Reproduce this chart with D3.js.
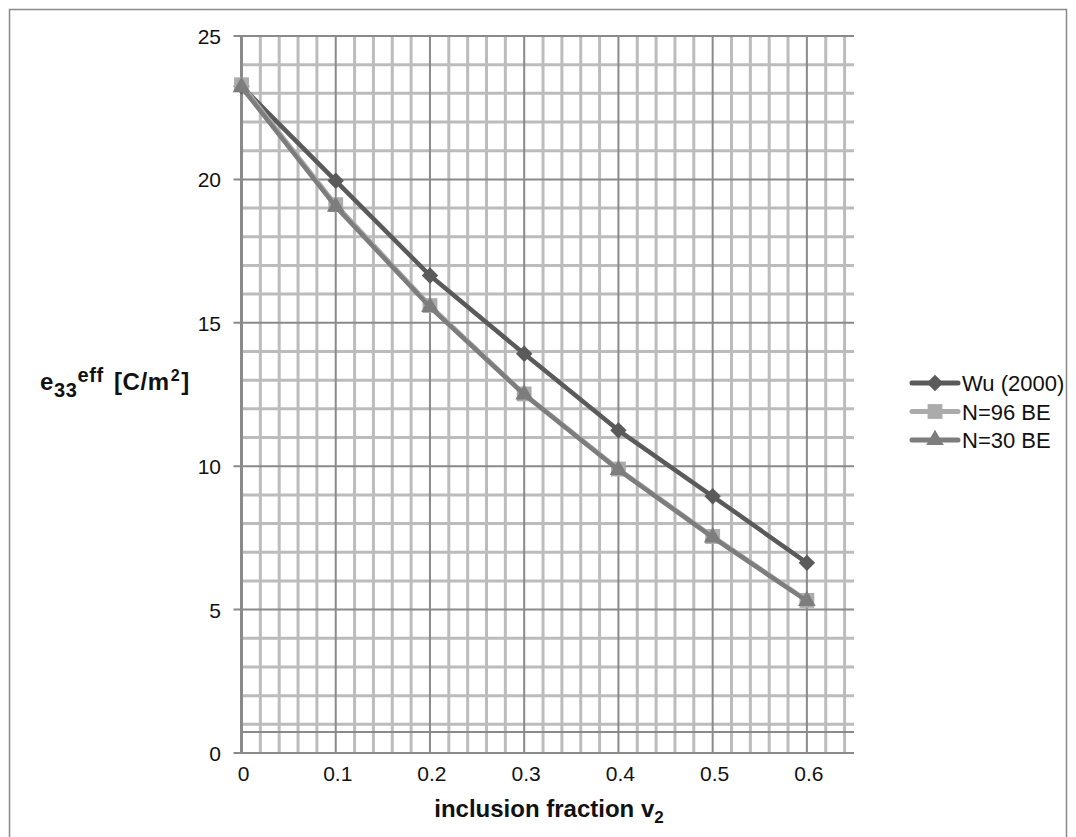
<!DOCTYPE html>
<meta charset="utf-8">
<style>
body,html{
  margin: 0;
  padding: 0;
  background: #fff;
}
svg{
  display: block;
  font-family: "Liberation Sans", Arial, sans-serif;
}
.grid-minor line { stroke: #bcbcbc; stroke-width: 3px; }
.grid-major line { stroke: #8a8a8a; stroke-width: 2px; }
.ticklbl { font-size: 21px; fill: #111; }
.legend text { font-size: 22px; fill: #111; }
</style>
<svg width="1076" height="837"></svg>
<script src="https://d3js.org/d3.v7.min.js"></script>
<script>

// inclusion fraction values
var xs = [0, 0.1, 0.2, 0.3, 0.4, 0.5, 0.6]

// e33 eff for each series
var wu     = [23.25, 19.95, 16.65, 13.92, 11.25, 8.95, 6.63]
var n96    = [23.3, 19.12, 15.6, 12.52, 9.9, 7.55, 5.32]
var n30    = [23.22, 19.05, 15.55, 12.5, 9.87, 7.52, 5.3]

var seriesNames = ["Wu (2000)", "N=96 BE", "N=30 BE"]
var xTicks = [0, 0.1, 0.2, 0.3, 0.4, 0.5, 0.6]
var yTicks = [0, 5, 10, 15, 20, 25]

var svg = d3.select("svg"),
    width = +svg.attr("width"),
    height = +svg.attr("height");

// outer frame
svg.append("rect")
  .attr("x", 9.5).attr("y", 9.5)
  .attr("width", 1057).attr("height", 840)
  .attr("fill", "none").attr("stroke", "#8a8a8a").attr("stroke-width", 1.5)

var x = d3.scaleLinear().domain([0, 0.65]).range([241.5, 854])
var y = d3.scaleLinear().domain([0, 25]).range([753, 36])

// minor grid: every 0.02 / every 1
var g = svg.append("g")
var minorX = d3.range(0.02, 0.651, 0.02).filter(v => Math.abs(v*10 - Math.round(v*10)) > 1e-6)
var minorY = d3.range(1, 25, 1).filter(v => v % 5 != 0)

g.append("g").attr("class", "grid-minor")
  .selectAll("line").data(minorX).enter().append("line")
    .attr("x1", d => x(d)).attr("x2", d => x(d))
    .attr("y1", y(25)).attr("y2", y(0))
g.append("g").attr("class", "grid-minor")
  .selectAll("line").data(minorY).enter().append("line")
    .attr("x1", x(0)).attr("x2", x(0.65))
    .attr("y1", d => y(d)).attr("y2", d => y(d))

// odd dark line just above the x axis in the original
g.append("line")
  .attr("x1", x(0)).attr("x2", x(0.65))
  .attr("y1", y(0.73)).attr("y2", y(0.73))
  .attr("stroke", "#8a8a8a").attr("stroke-width", 2)

g.append("g").attr("class", "grid-major")
  .selectAll("line").data(xTicks.slice(1)).enter().append("line")
    .attr("x1", d => x(d)).attr("x2", d => x(d))
    .attr("y1", y(25)).attr("y2", y(0))
g.append("g").attr("class", "grid-major")
  .selectAll("line").data(yTicks).enter().append("line")
    .attr("x1", x(0) - 8).attr("x2", x(0.65))
    .attr("y1", d => y(d)).attr("y2", d => y(d))
    .attr("stroke-width", d => d == 0 || d == 25 ? 3 : 2)

// y axis line
g.append("line")
  .attr("x1", x(0)).attr("x2", x(0))
  .attr("y1", y(25)).attr("y2", y(0))
  .attr("stroke", "#8a8a8a").attr("stroke-width", 3)

// tick labels
svg.append("g").selectAll("text").data(yTicks).enter().append("text")
  .attr("class", "ticklbl")
  .attr("x", 221).attr("y", d => y(d) + 8)
  .attr("text-anchor", "end")
  .text(d => d)

svg.append("g").selectAll("text").data(xTicks).enter().append("text")
  .attr("class", "ticklbl")
  .attr("x", d => x(d) + 2).attr("y", 781)
  .attr("text-anchor", "middle")
  .text(d => d)

// axis titles
var xt = svg.append("text")
  .attr("x", 549).attr("y", 817)
  .attr("text-anchor", "middle")
  .attr("font-size", 24).attr("font-weight", "bold").attr("fill", "#111")
xt.append("tspan").text("inclusion fraction v")
xt.append("tspan").attr("font-size", 17).attr("dy", 6).text("2")

var yt = svg.append("text")
  .attr("x", 40).attr("y", 390)
  .attr("font-size", 24).attr("font-weight", "bold").attr("fill", "#111")
  .attr("letter-spacing", 0.6)
yt.append("tspan").text("e")
yt.append("tspan").attr("font-size", 20).attr("dy", 7).text("33")
yt.append("tspan").attr("font-size", 20).attr("dy", -15).text("eff")
yt.append("tspan").attr("dx", 3).attr("dy", 8).text(" [C/m")
yt.append("tspan").attr("font-size", 16).attr("dy", -9).attr("dx", 1).text("2")
yt.append("tspan").attr("dy", 9).attr("dx", 1).text("]")

// series
var series = [
  {name: seriesNames[0], vals: wu,  color: "#5a5a5a", shape: "diamond"},
  {name: seriesNames[1], vals: n96, color: "#ababab", shape: "square"},
  {name: seriesNames[2], vals: n30, color: "#7d7d7d", shape: "triangle"}
]

var symbols = {
  diamond: d3.symbol().type(d3.symbolSquare).size(135),
  square: d3.symbol().type(d3.symbolSquare).size(220),
  triangle: d3.symbol().type(d3.symbolTriangle).size(135)
}
var rot = { diamond: " rotate(45)", square: "", triangle: "" }

var line = d3.line()
  .x(function(d, i) { return x(xs[i]) })
  .y(function(d) { return y(d) })

series.forEach(function(s) {
  svg.append("path")
    .attr("d", line(s.vals))
    .attr("fill", "none")
    .attr("stroke", s.color)
    .attr("stroke-width", 4.5)
    .attr("stroke-linejoin", "round")
    .attr("stroke-linecap", "round")

  svg.append("g").selectAll("path").data(s.vals).enter().append("path")
    .attr("d", symbols[s.shape])
    .attr("transform", function(d, i) { return "translate(" + x(xs[i]) + "," + y(d) + ")" + rot[s.shape] })
    .attr("fill", s.color)
})

// legend
var legend = svg.append("g").attr("class", "legend")
  .selectAll("g").data(series).enter().append("g")
    .attr("transform", function(d, i) { return "translate(0," + (383 + i * 28.5) + ")" })

legend.append("line")
  .attr("x1", 912).attr("x2", 958)
  .attr("stroke", d => d.color)
  .attr("stroke-width", 5)
  .attr("stroke-linecap", "round")
legend.append("path")
  .attr("d", d => symbols[d.shape]())
  .attr("transform", d => "translate(935,0)" + rot[d.shape])
  .attr("fill", d => d.color)
legend.append("text")
  .attr("x", 962).attr("y", 8)
  .text(d => d.name)

</script>
